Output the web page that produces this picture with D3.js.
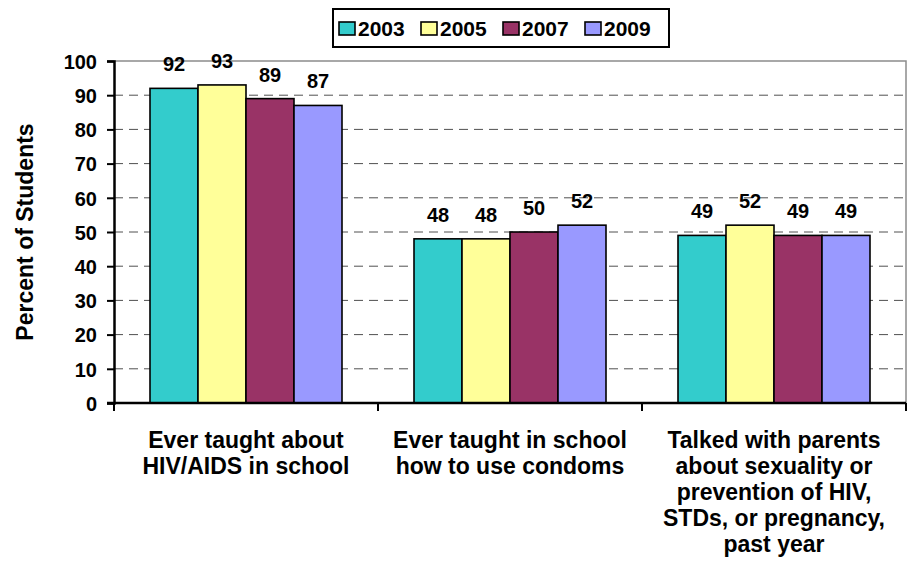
<!DOCTYPE html>
<html>
<head>
<meta charset="utf-8">
<script src="https://cdn.jsdelivr.net/npm/d3@7"></script>
<style>
  html, body { margin: 0; padding: 0; background: #fff; }
  svg { display: block; }
  text { font-family: "Liberation Sans", Arial, Helvetica, sans-serif; font-weight: bold; fill: #000; }
</style>
</head>
<body>
<svg id="chart" width="912" height="567"></svg>
<script>
// Survey topics (x categories), one label line per array entry
const categories = [
  ["Ever taught about", "HIV/AIDS in school"],
  ["Ever taught in school", "how to use condoms"],
  ["Talked with parents", "about sexuality or", "prevention of HIV,", "STDs, or pregnancy,", "past year"]
];
const years = ["2003", "2005", "2007", "2009"];
// Percent of students, one array per year, in category order
const v2003 = [92, 48, 49];
const v2005 = [93, 48, 52];
const v2007 = [89, 50, 49];
const v2009 = [87, 52, 49];
const yTicks = [0, 10, 20, 30, 40, 50, 60, 70, 80, 90, 100];
const colors = ["#33CCCC", "#FFFF99", "#993366", "#9999FF"];

const series = [v2003, v2005, v2007, v2009];

const svg = d3.select("#chart");
const plot = { left: 114, right: 906, top: 61, bottom: 403 };

const x0 = d3.scaleBand()
  .domain(d3.range(categories.length))
  .range([plot.left, plot.right])
  .paddingInner(0).paddingOuter(0);

const x1 = d3.scaleBand()
  .domain(years)
  .range([0, x0.bandwidth()])
  .paddingInner(0)
  .paddingOuter(0.75);

const y = d3.scaleLinear().domain([0, 100]).range([plot.bottom, plot.top]);

// plot area frame (top and right edges)
svg.append("path")
  .attr("d", `M${plot.left},${plot.top}H${plot.right}V${plot.bottom}`)
  .attr("fill", "none")
  .attr("stroke", "#8c8c8c")
  .attr("stroke-width", 1.5);

// dashed gridlines
svg.append("g")
  .selectAll("line")
  .data(yTicks.filter(t => t > 0 && t < 100))
  .join("line")
  .attr("x1", plot.left).attr("x2", plot.right)
  .attr("y1", d => y(d)).attr("y2", d => y(d))
  .attr("stroke", "#505050")
  .attr("stroke-width", 1)
  .attr("stroke-dasharray", "9,6");

// bars
const barData = [];
series.forEach((vals, si) => {
  vals.forEach((v, ci) => barData.push({ ci, year: years[si], si, v }));
});

svg.append("g")
  .selectAll("rect")
  .data(barData)
  .join("rect")
  .attr("x", d => x0(d.ci) + x1(d.year))
  .attr("y", d => y(d.v))
  .attr("width", x1.bandwidth())
  .attr("height", d => y(0) - y(d.v))
  .attr("fill", d => colors[d.si])
  .attr("stroke", "#000")
  .attr("stroke-width", 1.6);

// value labels
svg.append("g")
  .selectAll("text")
  .data(barData)
  .join("text")
  .attr("x", d => x0(d.ci) + x1(d.year) + x1.bandwidth() / 2)
  .attr("y", d => y(d.v) - 17)
  .attr("text-anchor", "middle")
  .attr("font-size", 20)
  .text(d => d.v);

// y axis
const yAxis = svg.append("g")
  .attr("transform", `translate(${plot.left},0)`)
  .call(d3.axisLeft(y).tickValues(yTicks).tickSize(7).tickPadding(10).tickFormat(d3.format("d")));
yAxis.select(".domain").attr("stroke", "#000").attr("stroke-width", 2.5);
yAxis.selectAll(".tick line").attr("stroke", "#000").attr("stroke-width", 2);
yAxis.selectAll(".tick text")
  .attr("font-size", 20)
  .attr("font-family", "'Liberation Sans', Arial, sans-serif")
  .attr("font-weight", "bold")
  .attr("fill", "#000")
  .attr("dy", "0.36em");

// x axis baseline with category boundary ticks
const xAxis = svg.append("g");
xAxis.append("line")
  .attr("x1", plot.left - 7).attr("x2", plot.right)
  .attr("y1", y(0)).attr("y2", y(0))
  .attr("stroke", "#000").attr("stroke-width", 2.5);
xAxis.selectAll(".xt")
  .data(d3.range(categories.length + 1))
  .join("line")
  .attr("class", "xt")
  .attr("x1", d => d < categories.length ? x0(d) : plot.right)
  .attr("x2", d => d < categories.length ? x0(d) : plot.right)
  .attr("y1", y(0)).attr("y2", y(0) + 8)
  .attr("stroke", "#000").attr("stroke-width", 2);

// category labels
const catG = svg.append("g")
  .selectAll("text")
  .data(categories)
  .join("text")
  .attr("text-anchor", "middle")
  .attr("font-size", 23)
  .attr("x", (d, i) => x0(i) + x0.bandwidth() / 2);
catG.selectAll("tspan")
  .data((d, i) => d.map(line => ({ line, x: x0(i) + x0.bandwidth() / 2 })))
  .join("tspan")
  .attr("x", d => d.x)
  .attr("y", (d, j) => 448 + j * 26)
  .text(d => d.line);

// y axis title
svg.append("text")
  .attr("transform", "translate(33,232) rotate(-90)")
  .attr("text-anchor", "middle")
  .attr("font-size", 23)
  .text("Percent of Students");

// legend
const legend = svg.append("g");
legend.append("rect")
  .attr("x", 333).attr("y", 9)
  .attr("width", 336).attr("height", 38)
  .attr("fill", "#fff")
  .attr("stroke", "#000")
  .attr("stroke-width", 2);
const items = legend.selectAll(".item")
  .data(years)
  .join("g")
  .attr("class", "item")
  .attr("transform", (d, i) => `translate(${339 + i * 82},0)`);
items.append("rect")
  .attr("x", 0).attr("y", 22)
  .attr("width", 16).attr("height", 13)
  .attr("fill", (d, i) => colors[i])
  .attr("stroke", "#000")
  .attr("stroke-width", 1.6);
items.append("text")
  .attr("x", 19).attr("y", 36)
  .attr("font-size", 21)
  .text(d => d);
</script>
</body>
</html>
